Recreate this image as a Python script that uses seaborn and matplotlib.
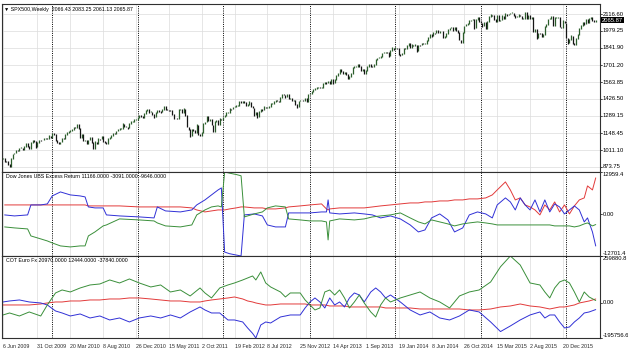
import numpy as np
import pandas as pd
import matplotlib
matplotlib.use('Agg')
import matplotlib.pyplot as plt
import seaborn as sns

# SPX500 weekly closes, week of 7 Jun 2009 onwards
spx_close = [
    946, 921, 918, 896, 879, 940, 979, 987, 1010, 1005, 1026, 1029, 1016, 1042, 1068, 1044,
    1025, 1071, 1087, 1080, 1036, 1069, 1093, 1091, 1091, 1106, 1106, 1102, 1126, 1115,
    # 2010
    1145, 1136, 1092, 1074, 1066, 1075, 1109, 1104, 1139, 1150, 1160, 1167, 1179, 1194, 1192, 1217,
    1187, 1111, 1136, 1088, 1089, 1064, 1092, 1117, 1076, 1022, 1078, 1065, 1102, 1101, 1122, 1079,
    1071, 1065, 1104, 1110, 1126, 1149, 1146, 1166, 1176, 1183, 1183, 1225, 1199, 1199, 1190, 1224,
    1240, 1244, 1257, 1258,
    # 2011
    1272, 1293, 1283, 1276, 1310, 1329, 1343, 1320, 1321, 1304, 1279, 1314, 1332, 1328, 1320, 1337,
    1364, 1340, 1338, 1333, 1331, 1300, 1271, 1271, 1268, 1340, 1344, 1316, 1345, 1292, 1199, 1179,
    1124, 1177, 1174, 1154, 1216, 1136, 1131, 1155, 1224, 1238, 1285, 1253, 1263, 1216, 1159, 1244,
    1255, 1219, 1265, 1258,
    # 2012
    1278, 1289, 1315, 1316, 1345, 1343, 1361, 1366, 1370, 1371, 1404, 1397, 1408, 1398, 1370, 1379,
    1403, 1369, 1353, 1295, 1318, 1278, 1325, 1343, 1335, 1362, 1355, 1357, 1363, 1386, 1391, 1406,
    1418, 1411, 1407, 1438, 1466, 1460, 1441, 1461, 1429, 1433, 1411, 1414, 1380, 1360, 1409, 1416,
    1418, 1413, 1430, 1402,
    # 2013
    1466, 1472, 1486, 1503, 1513, 1518, 1520, 1516, 1518, 1551, 1561, 1556, 1569, 1553, 1588, 1555,
    1582, 1614, 1633, 1667, 1650, 1631, 1643, 1626, 1593, 1606, 1632, 1680, 1692, 1692, 1710, 1691,
    1656, 1664, 1633, 1655, 1688, 1710, 1692, 1690, 1703, 1745, 1759, 1762, 1771, 1798, 1804, 1806,
    1805, 1775, 1818, 1841,
    # 2014
    1831, 1842, 1838, 1790, 1783, 1797, 1838, 1836, 1859, 1878, 1841, 1866, 1857, 1865, 1816, 1864,
    1863, 1881, 1878, 1878, 1900, 1924, 1949, 1936, 1963, 1961, 1985, 1968, 1978, 1978, 1925, 1931,
    1955, 1988, 2003, 2008, 1985, 2010, 1982, 1968, 1906, 1886, 1965, 2018, 2032, 2040, 2064, 2068,
    2075, 2002, 2071, 2089,
    # 2015
    2058, 2045, 2019, 2051, 1995, 2055, 2097, 2110, 2104, 2071, 2053, 2108, 2061, 2067, 2102, 2081,
    2117, 2108, 2116, 2123, 2126, 2107, 2092, 2094, 2110, 2101, 2077, 2077, 2127, 2080, 2104, 2078,
    2092, 1971, 1989, 1921, 1961, 1958, 1931, 1951, 2015, 2033, 2075, 2079, 2099, 2023, 2089, 2090,
    2092, 2012, 2006, 2061, 2044,
    # 2016
    1922, 1880, 1907, 1940, 1880, 1865, 1918, 1948, 2000, 2022, 2050, 2035, 2073, 2048, 2081, 2092,
    2065, 2057, 2065.87,
]
spx_first_open = 940
start_week = '2009-06-07'

date_labels = ['6 Jun 2009', '31 Oct 2009', '20 Mar 2010', '8 Aug 2010', '26 Dec 2010',
               '15 May 2011', '2 Oct 2011', '19 Feb 2012', '8 Jul 2012', '25 Nov 2012',
               '14 Apr 2013', '1 Sep 2013', '19 Jan 2014', '8 Jun 2014', '26 Oct 2014',
               '15 Mar 2015', '2 Aug 2015', '20 Dec 2015']

main_ticks = [873.75, 1011.10, 1148.45, 1289.15, 1426.50, 1563.85, 1701.20, 1841.90, 1979.25, 2116.60]

# Dow Jones UBS Excess Return (COT) - week index and values
p2_week = [1, 7, 15, 17, 23, 27, 30, 35, 41, 47, 50, 52, 56, 61, 63, 71, 83, 92, 94, 99, 108, 115,
           118, 123, 127, 131, 133, 135, 138, 142, 145, 147, 153, 158, 161, 166, 172, 174, 181, 187,
           194, 197, 198, 199, 205, 214, 220, 225, 230, 236, 242, 248, 253, 257, 261, 266, 271, 275,
           280, 284, 289, 294, 298, 301, 306, 309, 312, 315, 318, 321, 324, 327, 330, 333, 336, 339,
           342, 345, 348, 351, 354, 356, 359, 361]
p2_red = [2900, 2900, 2900, 2900, 2900, 2900, 2900, 2900, 2900, 2900, 2900, 2600, 2600, 2600, 2600,
          2600, 2290, 2290, 2290, 2290, 2290, 1990, 1370, 760, 1070, 1370, 1370, 1370, 1680, 1990,
          2290, 2290, 1990, 1990, 1680, 1680, 1990, 2290, 2600, 2900, 3210, 1680, 1370, 1680, 1990,
          1990, 1990, 2290, 2600, 2900, 3210, 3510, 3510, 3820, 3820, 4120, 4120, 4430, 4430, 4740,
          4740, 5040, 5960, 7480, 9930, 7480, 4430, 5040, 2900, 2290, 1370, -150, 2900, 1370, 3820,
          760, 2900, 150, 2600, 4430, 5040, 8710, 7480, 11166]
p2_blue = [-150, -460, -150, 2900, 2900, 3210, 5650, 6870, 5960, 5650, 5350, 2290, 1990, 1990, -150,
           -460, -760, -1070, 2290, 1070, 760, 1370, 2900, 4430, 5960, 7480, 8100, -11500, -12000,
           -12400, -12700, -150, 150, -460, -3210, -3820, -3820, 460, 460, 460, 760, 760, 4430, 460,
           150, 460, 150, -150, -1070, -460, -1370, -3210, -5350, -4740, -1070, 150, -1680, -5350,
           -4120, -150, 760, 150, -1070, 2900, 5040, 3820, 1370, 5040, 2900, 1370, 4430, 760, 4430,
           760, 3210, 2290, 150, 1370, 2600, 1370, -2290, -1070, -5350, -9646]
p2_green = [-3820, -4120, -4430, -6570, -7480, -8100, -8710, -9620, -9930, -9620, -9620, -6570, -5350,
            -3510, -3210, -1370, -1680, -1990, -2600, -3510, -3820, -3210, -150, 1370, 2290, 2600,
            2290, 12960, 12600, 12200, 11800, -760, 150, 760, 1990, 2600, 2290, -1370, -1680, -1990,
            -1990, -2290, -7790, -1990, -1370, -1680, -1370, -760, -460, -150, 460, -1070, -2290,
            -2900, -1680, -2290, -2900, -3510, -2900, -2600, -2290, -2600, -2900, -3210, -3210,
            -3210, -3210, -3210, -3210, -3210, -3210, -3210, -3210, -3210, -3510, -3510, -3510,
            -3510, -3820, -3510, -2900, -2600, -3510, -3091]

# COT Euro Fx
p3_week = [0, 4, 10, 16, 23, 27, 32, 36, 41, 47, 53, 59, 65, 71, 77, 83, 90, 96, 102, 108, 114, 120,
           123, 127, 132, 137, 141, 146, 149, 152, 154, 157, 160, 163, 169, 172, 175, 181, 184, 187,
           190, 193, 196, 199, 202, 205, 208, 211, 214, 217, 220, 224, 227, 230, 233, 236, 242, 248,
           254, 260, 266, 272, 278, 284, 290, 297, 303, 309, 315, 321, 327, 330, 333, 336, 339, 342,
           345, 348, 351, 354, 357, 361]
p3_red = [-12200, -12200, -12200, -12200, -6700, -1100, 4400, 4400, 10000, 10000, 15600, 15600, 21100,
          21100, 26700, 26700, 21100, 15600, 10000, 10000, 4400, 4400, 10000, 15600, 21100, 26700,
          32200, 21100, 10000, 4400, -1100, -6700, -12200, -12200, -6700, -6700, -6700, -6700, -6700,
          -12200, -12200, -12200, -12200, -17800, -17800, -17800, -17800, -23300, -23300, -23300,
          -23300, -23300, -23300, -23300, -28900, -28900, -28900, -28900, -34500, -34500, -34500,
          -34500, -34500, -40000, -40000, -34500, -23300, -17800, -6700, -17800, -23300, -28900,
          -34500, -28900, -23300, -23300, -17800, -12200, -1100, 4400, 10000, 20970]
p3_blue = [4400, 10000, 15600, 4400, -1100, -12200, -45600, -56700, -73400, -62200, -84500, -73400,
           -95600, -84500, -106700, -84500, -73400, -84500, -67800, -84500, -51100, -23300, -40000,
           -56700, -56700, -95600, -95600, -106700, -140000, -170000, -195757, -123400, -106700,
           -112300, -78900, -73400, -67800, -67800, -28900, 4400, 26700, 4400, -28900, 26700, -12200,
           4400, -23300, 26700, 54500, 43300, 4400, 60000, 82200, 60000, 26700, 43300, 4400, -40000,
           -67800, -51100, -84500, -95600, -73400, -40000, -51100, -106700, -160000, -128900, -95600,
           -67800, -51100, -84500, -67800, -67800, -106700, -140000, -134500, -106700, -84500,
           -56700, -51100, -37840]
p3_green = [-67800, -56700, -73400, -51100, -73400, -12200, 54500, 71100, 60000, 82200, 98900, 104500,
            126700, 110000, 132300, 110000, 87800, 98900, 60000, 71100, 37800, 82200, 54500, 26700,
            82200, 98900, 110000, 126700, 137800, 148900, 126700, 171200, 110000, 87800, 60000, 32200,
            54500, 54500, 15600, -12200, -40000, -28900, 60000, 71100, 43300, 71100, 26700, -28900,
            4400, 43300, -1100, -51100, -78900, -12200, 26700, 4400, 26700, 43300, 60000, 26700, 4400,
            -28900, 37800, 60000, 71100, 115600, 200000, 259881, 210000, 110000, 98900, 60000, 26700,
            82200, 115600, 126700, 110000, 60000, 4400, 60000, 32200, 12444]

RED, BLUE, GREEN = '#e23a3a', '#3030d6', '#3a8f3a'
GRID = '#dcdcdc'
FS = 3.8      # titles and date labels
FS_R = 4.2    # right-hand price scale

sns.set_theme(style='white')
plt.rcParams['font.family'] = ['Liberation Sans', 'DejaVu Sans']

n = len(spx_close)
weeks = pd.date_range(start_week, periods=n, freq='7D')
idx = np.arange(n)
spx_open = [spx_first_open] + spx_close[:-1]
label_pos = [int(np.abs(weeks - pd.to_datetime(s, format='%d %b %Y')).argmin()) for s in date_labels]
year_sep = [i for i in range(1, n) if weeks[i].year != weeks[i - 1].year]

W, H = 628, 353
fig = plt.figure(figsize=(W / 100, H / 100), dpi=100)
fig.patch.set_facecolor('white')
left, right = 2 / W, 600 / W
ax1 = fig.add_axes([left, 1 - 172 / H, right - left, 168 / H])
ax2 = fig.add_axes([left, 1 - 256 / H, right - left, 84 / H])
ax3 = fig.add_axes([left, 1 - 338 / H, right - left, 82 / H])

for ax in (ax1, ax2, ax3):
    ax.set_xlim(-0.6, 363.6)
    ax.set_xticks(label_pos)
    ax.set_yticks([])
    ax.tick_params(axis='x', length=0, labelbottom=False)
    for xp in label_pos:
        ax.axvline(xp, color=GRID, lw=0.5, zorder=0)
    for s in year_sep:
        ax.axvline(s, color='black', lw=0.7, ls=(0, (1, 1.3)), zorder=1)
    for sp in ax.spines.values():
        sp.set_color('#303030')
        sp.set_linewidth(0.8)


def right_label(ax, value, text, va='center'):
    tr = ax.get_yaxis_transform()
    ax.plot([1.0, 1.004], [value, value], transform=tr, color='black', lw=0.5, clip_on=False)
    ax.text(1.005, value, text, transform=tr, ha='left', va=va, fontsize=FS_R, color='black')


# main price panel: weekly bars
ax1.set_ylim(833, 2198)
for v in main_ticks:
    ax1.axhline(v, color=GRID, lw=0.5, zorder=0)
    right_label(ax1, v, f'{v:.2f}')
lo = np.minimum(spx_open, spx_close)
hi = np.maximum(spx_open, spx_close)
up = np.array(spx_close) >= np.array(spx_open)
ax1.vlines(idx[up], lo[up] - 2, hi[up] + 4, color='#2c5e2c', lw=0.9, zorder=3)
ax1.vlines(idx[~up], lo[~up] - 4, hi[~up] + 2, color='#151515', lw=0.9, zorder=3)
ax1.text(1.003, spx_close[-1], f'{spx_close[-1]:.2f}', transform=ax1.get_yaxis_transform(),
         ha='left', va='center', fontsize=FS_R, color='white',
         bbox=dict(facecolor='black', edgecolor='none', pad=0.5))
ax1.text(0.004, 0.985, '\u25bc SPX500,Weekly  2066.43 2083.25 2061.13 2065.87',
         transform=ax1.transAxes, ha='left', va='top', fontsize=FS, color='black')

# Dow Jones UBS panel
ax2.set_ylim(-12701.4, 12959.4)
sns.lineplot(x=p2_week, y=p2_red, ax=ax2, color=RED, lw=0.7, estimator=None)
sns.lineplot(x=p2_week, y=p2_blue, ax=ax2, color=BLUE, lw=0.7, estimator=None)
sns.lineplot(x=p2_week, y=p2_green, ax=ax2, color=GREEN, lw=0.7, estimator=None)
right_label(ax2, 12959.4, '12959.4', va='top')
right_label(ax2, 0, '0.00')
right_label(ax2, -12701.4, '-12701.4', va='bottom')
ax2.text(0.006, 0.975, 'Dow Jones UBS Excess Return 11166.0000 -3091.0000 -9646.0000',
         transform=ax2.transAxes, ha='left', va='top', fontsize=FS, color='black')

# COT Euro Fx panel
ax3.set_ylim(-195756.6, 259880.8)
sns.lineplot(x=p3_week, y=p3_red, ax=ax3, color=RED, lw=0.7, estimator=None)
sns.lineplot(x=p3_week, y=p3_blue, ax=ax3, color=BLUE, lw=0.7, estimator=None)
sns.lineplot(x=p3_week, y=p3_green, ax=ax3, color=GREEN, lw=0.7, estimator=None)
right_label(ax3, 259880.8, '259880.8', va='top')
right_label(ax3, 0, '0.00')
right_label(ax3, -195756.6, '-195756.6', va='bottom')
ax3.text(0.006, 0.975, 'COT Euro Fx 20970.0000 12444.0000 -37840.0000',
         transform=ax3.transAxes, ha='left', va='top', fontsize=FS, color='black')
ax3.tick_params(axis='x', length=2, width=0.5, pad=2, labelbottom=True, labelsize=FS, color='black')
ax3.set_xticklabels(date_labels, ha='left')

for ax in (ax1, ax2, ax3):
    ax.set_xlim(-0.6, 363.6)
    ax.set_xlabel('')
    ax.set_ylabel('')

fig.savefig('out.png', dpi=100, facecolor='white')
